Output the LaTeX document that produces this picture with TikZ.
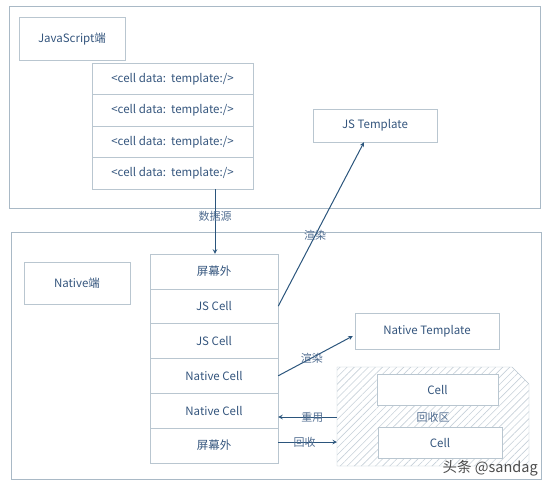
\documentclass[tikz,border=0pt]{standalone}
\usepackage{fontspec}
\setmainfont{Noto Sans CJK SC}
\usetikzlibrary{calc}
\usetikzlibrary{patterns.meta}
\usepackage{xcolor}
\definecolor{txt}{HTML}{34557D}
\definecolor{edge}{HTML}{B9C6D0}
\definecolor{frame}{HTML}{A9B9C6}
\definecolor{arr}{HTML}{2B557C}
\tikzset{
  box/.style = {draw=edge, text=txt, inner sep=0, font=\fontsize{11.5}{13}\selectfont},
  lbl/.style = {text=txt!85, inner sep=0, font=\fontsize{11}{13}\selectfont},
  link/.style = {draw=arr, line width=1pt, -stealth}
}

\begin{document}
\begin{tikzpicture}[x=1pt, y=-1pt]
\useasboundingbox (0,0) rectangle (550,488);

\draw[frame, line width=.8pt] (9,6) rectangle (540,208);
\draw[frame, line width=.8pt] (11,232) rectangle (541,479);

\node[box, minimum width=106, minimum height=43] (jsside) at (72,38.5) {JavaScript端};
\node[box, minimum width=124, minimum height=33] (jst) at (375,125.5) {JS Template};

\node[box, minimum width=161, minimum height=31.5] (d1) at (172.5,78.75) {<cell data:\ \ template:/>};
\node[box, minimum width=161, minimum height=31.5] (d2) at (172.5,110.25) {<cell data:\ \ template:/>};
\node[box, minimum width=161, minimum height=31.5] (d3) at (172.5,141.75) {<cell data:\ \ template:/>};
\node[box, minimum width=161, minimum height=31.5] (d4) at (172.5,173.25) {<cell data:\ \ template:/>};

\node[box, minimum width=106, minimum height=42] (natside) at (77,283) {Native端};

\node[box, minimum width=128, minimum height=34.8] (n1) at (214,271.4) {屏幕外};
\node[box, minimum width=128, minimum height=34.8] (n2) at (214,306.2) {JS Cell};
\node[box, minimum width=128, minimum height=34.8] (n3) at (214,341) {JS Cell};
\node[box, minimum width=128, minimum height=34.8] (n4) at (214,375.8) {Native Cell};
\node[box, minimum width=128, minimum height=34.8] (n5) at (214,410.6) {Native Cell};
\node[box, minimum width=128, minimum height=34.8] (n6) at (214,445.4) {屏幕外};

\node[box, minimum width=144, minimum height=36] (nt) at (427,331) {Native Template};

\draw[draw=edge, pattern={Lines[angle=45, distance=5pt, line width=.6pt]}, pattern color=edge!80]
  (337,367) -- (512,367) -- (529,384) -- (529,466) -- (337,466) -- cycle;
\coordinate (r1) at (337,417);
\coordinate (r2) at (337,442);

\node[box, fill=white, minimum width=121, minimum height=31] (c1) at (437.5,389.5) {Cell};
\node[box, fill=white, minimum width=124, minimum height=31] (c2) at (440,442.5) {Cell};
\node[lbl] (bin) at (433,417) {回收区};

\draw[link] (d4.south -| 215,0) -- (n1.north -| 215,0) node[lbl, pos=.42] {数据源};
\draw[link] (n2.east) -- ([xshift=-11pt]jst.south) node[lbl, pos=.43] {渲染};
\draw[link] (n4.east) -- ([yshift=-5pt, xshift=-2pt]nt.west) node[lbl, pos=.45] {渲染};
\draw[link] (r1) -- (r1 -| n5.east) node[lbl, pos=.42] {重用};
\draw[link] (r2 -| n6.east) -- (r2) node[lbl, pos=.45] {回收};

\node[text=black!70, inner sep=0, font=\fontsize{14.5}{16}\selectfont, anchor=east] (wm) at (538,468) {头条 @sandag};

\end{tikzpicture}
\end{document}
